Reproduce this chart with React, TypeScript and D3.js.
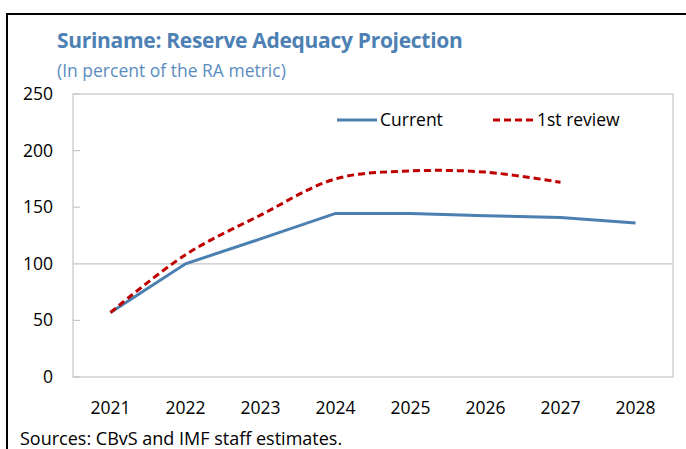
import React from "react";
import * as d3 from "d3";

const years = ["2021", "2022", "2023", "2024", "2025", "2026", "2027", "2028"];
const currentValues = [57, 100, 122, 144.5, 144.5, 142.5, 141, 136];
const firstReviewValues = [57, 108, 143, 175, 182, 181, 172];
const yTicks = [0, 50, 100, 150, 200, 250];

const W = 686;
const H = 449;
const plot = { left: 73, right: 673, top: 94, bottom: 377 };
const FONT = "'Open Sans', 'Noto Sans', sans-serif";

export default function App() {
  const x = d3.scaleBand().domain(years).range([plot.left, plot.right]);
  const cx = (y: string) => (x(y) as number) + x.bandwidth() / 2;
  const y = d3.scaleLinear().domain([0, 250]).range([plot.bottom, plot.top]);

  const straight = d3
    .line<number>()
    .x((_, i) => cx(years[i]))
    .y((d) => y(d));
  const smooth = d3
    .line<number>()
    .x((_, i) => cx(years[i]))
    .y((d) => y(d))
    .curve(d3.curveCatmullRom.alpha(0.5));

  return (
    <svg
      width={W}
      height={H}
      style={{ position: "absolute", left: 0, top: 0, background: "#fff" }}
      fontFamily={FONT}
    >
      <rect x={7} y={14} width={W + 10} height={H + 10} fill="#fff" stroke="#000" strokeWidth={2} />
      <text x={57} y={48} fontSize={21} fontWeight="bold" fill="#4d80b3" letterSpacing={-0.3}>
        Suriname: Reserve Adequacy Projection
      </text>
      <text x={57} y={77} fontSize={17.5} fill="#5b8cc0">
        (In percent of the RA metric)
      </text>
      <rect
        x={plot.left}
        y={plot.top}
        width={plot.right - plot.left}
        height={plot.bottom - plot.top}
        fill="none"
        stroke="#c6c6c6"
        strokeWidth={1.2}
      />
      {yTicks.map((t) => (
        <g key={t}>
          {t === 100 ? (
            <line x1={plot.left} x2={plot.right} y1={y(t)} y2={y(t)} stroke="#c6c6c6" strokeWidth={1.2} />
          ) : (
            <line x1={plot.left} x2={plot.left + 7} y1={y(t)} y2={y(t)} stroke="#c6c6c6" strokeWidth={1.2} />
          )}
          <text x={53} y={y(t) + 6} fontSize={17.5} textAnchor="end" fill="#000">
            {t}
          </text>
        </g>
      ))}
      {years.map((yr) => (
        <text key={yr} x={cx(yr)} y={414} fontSize={17.5} textAnchor="middle" fill="#000">
          {yr}
        </text>
      ))}
      <path d={straight(currentValues) || ""} fill="none" stroke="#4a7fb0" strokeWidth={3} />
      <path
        d={smooth(firstReviewValues) || ""}
        fill="none"
        stroke="#c00000"
        strokeWidth={3}
        strokeDasharray="7 4"
      />
      <line x1={337} x2={377} y1={120} y2={120} stroke="#4a7fb0" strokeWidth={3} />
      <text x={380} y={126} fontSize={17.5} fill="#000">
        Current
      </text>
      <line x1={493} x2={534} y1={120} y2={120} stroke="#c00000" strokeWidth={3} strokeDasharray="7 4" />
      <text x={537} y={126} fontSize={17.5} fill="#000">
        1st review
      </text>
      <text x={20} y={445} fontSize={18} fill="#000">
        Sources: CBvS and IMF staff estimates.
      </text>
    </svg>
  );
}
